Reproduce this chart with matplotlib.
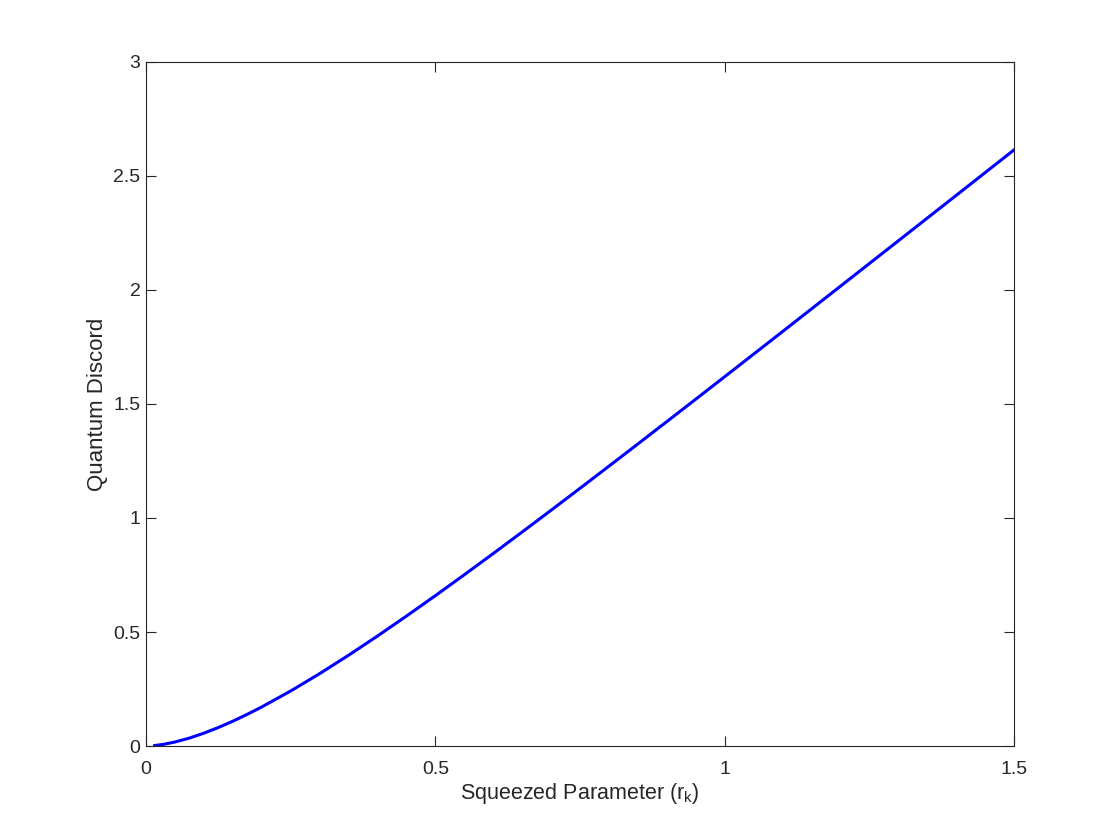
import matplotlib
matplotlib.use("Agg")
import matplotlib.pyplot as plt
from matplotlib.ticker import FormatStrFormatter

plt.rcParams["font.family"] = ["Liberation Sans", "DejaVu Sans"]
plt.rcParams["mathtext.default"] = "regular"

# values
r_k = [0.015, 0.03, 0.05, 0.075, 0.1, 0.125, 0.15, 0.175, 0.2, 0.25, 0.3,
       0.35, 0.4, 0.45, 0.5, 0.55, 0.6, 0.65, 0.7, 0.75, 0.8, 0.85, 0.9,
       0.95, 1.0, 1.1, 1.2, 1.3, 1.4, 1.5]
discord = [0.0021, 0.0072, 0.0175, 0.0348, 0.0563, 0.0811, 0.1088, 0.1390,
           0.1713, 0.2414, 0.3174, 0.3981, 0.4825, 0.5698, 0.6595, 0.7511,
           0.8442, 0.9387, 1.0341, 1.1304, 1.2274, 1.3249, 1.4229, 1.5212,
           1.6198, 1.8178, 2.0166, 2.2156, 2.4149, 2.6145]

AX_COLOR = "#262626"

fig = plt.figure(figsize=(11.2, 8.4), dpi=100)
ax = fig.add_axes([0.1304, 0.1119, 0.775, 0.8143])

ax.plot(r_k, discord, color="#0000FF", linewidth=2.2)

ax.set_xlim(0, 1.5)
ax.set_ylim(0, 3)
ax.set_xticks([0, 0.5, 1, 1.5])
ax.set_yticks([0, 0.5, 1, 1.5, 2, 2.5, 3])
ax.xaxis.set_major_formatter(FormatStrFormatter("%g"))
ax.yaxis.set_major_formatter(FormatStrFormatter("%g"))

ax.tick_params(direction="in", top=True, right=True, length=7, width=0.8,
               labelsize=14, colors=AX_COLOR)
ax.tick_params(axis="x", pad=11)
ax.tick_params(axis="y", pad=4)
for s in ax.spines.values():
    s.set_color(AX_COLOR)
    s.set_linewidth(0.8)

ax.set_xlabel("Squeezed Parameter (r$_k$)", fontsize=15.5, color=AX_COLOR, labelpad=2)
ax.set_ylabel("Quantum Discord", fontsize=16, color=AX_COLOR, labelpad=4)

fig.savefig("out.png", dpi=100)
plt.close(fig)
